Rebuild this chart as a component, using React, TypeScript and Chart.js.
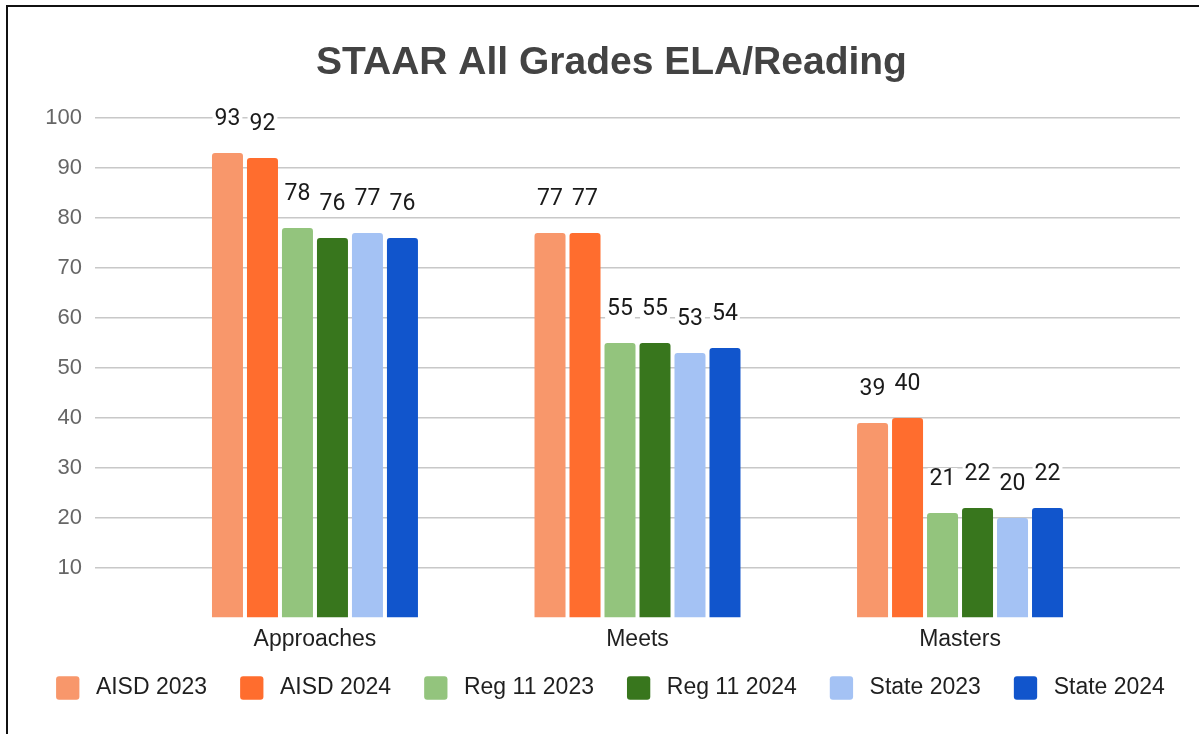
import React, { useEffect, useRef } from "react";
import { Chart, registerables } from "chart.js";

Chart.register(...registerables);

const chartTitle = "STAAR All Grades ELA/Reading";
const categories = ["Approaches", "Meets", "Masters"];
const seriesNames = ["AISD 2023", "AISD 2024", "Reg 11 2023", "Reg 11 2024", "State 2023", "State 2024"];
const aisd2023 = [93, 77, 39];
const aisd2024 = [92, 77, 40];
const reg11_2023 = [78, 55, 21];
const reg11_2024 = [76, 55, 22];
const state2023 = [77, 53, 20];
const state2024 = [76, 54, 22];
const seriesColors = ["#F8976B", "#FF6D2E", "#93C47D", "#38761D", "#A4C2F4", "#1155CC"];
const yMin = 0;
const yMax = 100;
const yStep = 10;

const seriesValues = [aisd2023, aisd2024, reg11_2023, reg11_2024, state2023, state2024];

const valueLabelPlugin = {
  id: "valueLabels",
  afterDatasetsDraw(chart: any) {
    const ctx = chart.ctx;
    ctx.save();
    ctx.font = '23px Roboto, "Liberation Sans", Arial, sans-serif';
    ctx.textAlign = "center";
    ctx.textBaseline = "middle";
    chart.data.datasets.forEach((ds: any, di: number) => {
      const meta = chart.getDatasetMeta(di);
      meta.data.forEach((bar: any, i: number) => {
        const raw = ds.data[i];
        const text = String(raw.y);
        const x = bar.x;
        const y = bar.y - 34;
        const w = ctx.measureText(text).width;
        ctx.fillStyle = "#ffffff";
        ctx.fillRect(x - w / 2 - 2, y - 11, w + 4, 22);
        ctx.fillStyle = "#1a1a1a";
        ctx.fillText(text, x, y);
      });
    });
    ctx.restore();
  },
};

const legendPlugin = {
  id: "customLegend",
  afterDraw(chart: any) {
    const ctx = chart.ctx;
    ctx.save();
    ctx.font = '23px "Liberation Sans", Arial, sans-serif';
    ctx.textBaseline = "middle";
    ctx.textAlign = "left";
    const box = 23.3;
    const gapText = 16.5;
    const gapItem = 33;
    const items = chart.data.datasets.map((ds: any) => ({
      text: ds.label,
      color: ds.backgroundColor,
      w: ctx.measureText(ds.label).width,
    }));
    const total =
      items.reduce((s: number, it: any) => s + box + gapText + it.w, 0) + gapItem * (items.length - 1);
    let x = 610.5 - total / 2;
    const cy = 688;
    items.forEach((it: any) => {
      ctx.fillStyle = it.color;
      ctx.beginPath();
      (ctx as any).roundRect(x, cy - box / 2, box, box, 3);
      ctx.fill();
      ctx.fillStyle = "#1f1f1f";
      ctx.fillText(it.text, x + box + gapText, cy);
      x += box + gapText + it.w + gapItem;
    });
    ctx.restore();
  },
};

export default function App() {
  const canvasRef = useRef<HTMLCanvasElement | null>(null);

  useEffect(() => {
    if (!canvasRef.current) return;
    const datasets = seriesNames.map((name, si) => ({
      label: name,
      data: seriesValues[si].map((v, i) => ({ x: i, y: v })),
      backgroundColor: seriesColors[si],
      borderWidth: 0,
      borderRadius: 3,
      categoryPercentage: 0.651,
      barPercentage: 0.886,
    }));

    const chart = new Chart(canvasRef.current, {
      type: "bar",
      data: { datasets },
      options: {
        animation: false,
        responsive: false,
        devicePixelRatio: 1,
        layout: { padding: { left: 43, right: 19, top: 0, bottom: 72.4 } },
        plugins: {
          legend: { display: false },
          tooltip: { enabled: false },
          title: {
            display: true,
            text: chartTitle,
            color: "#434343",
            font: { family: '"Liberation Sans", Arial, sans-serif', size: 39, weight: "bold" },
            padding: { top: 39.6, bottom: 31.6 },
          },
        },
        scales: {
          x: {
            type: "linear",
            min: -0.682,
            max: 2.682,
            offset: false,
            afterBuildTicks: (scale: any) => {
              scale.ticks = categories.map((_, i) => ({ value: i }));
            },
            grid: { display: false, drawTicks: false, offset: false },
            border: { display: false },
            ticks: {
              callback: (value: any) => categories[Math.round(Number(value))] ?? "",
              color: "#1f1f1f",
              font: { family: '"Liberation Sans", Arial, sans-serif', size: 23 },
              padding: 8,
              maxRotation: 0,
              autoSkip: false,
            },
          },
          y: {
            min: yMin,
            max: yMax,
            afterFit: (scale: any) => {
              scale.width = 52;
            },
            ticks: {
              stepSize: yStep,
              callback: (value: any) => (Number(value) === 0 ? "" : String(value)),
              color: "#666666",
              font: { family: '"Liberation Sans", Arial, sans-serif', size: 22 },
              padding: 13,
            },
            grid: {
              drawTicks: false,
              lineWidth: 1.5,
              color: (c: any) => (c.tick && c.tick.value === 0 ? "rgba(0,0,0,0)" : "#c8c8c8"),
            },
            border: { display: false },
          },
        },
      },
      plugins: [valueLabelPlugin, legendPlugin],
    } as any);

    return () => chart.destroy();
  }, []);

  return (
    <div
      style={{
        position: "fixed",
        left: 0,
        top: 0,
        width: 1199,
        height: 734,
        overflow: "hidden",
        background: "#ffffff",
      }}
    >
      <div
        style={{
          position: "absolute",
          left: 6,
          top: 5,
          right: 0,
          bottom: 0,
          borderLeft: "2px solid #111",
          borderTop: "2px solid #111",
        }}
      />
      <canvas
        ref={canvasRef}
        width={1199}
        height={734}
        style={{ position: "absolute", left: 0, top: 0, width: 1199, height: 734 }}
      />
    </div>
  );
}
